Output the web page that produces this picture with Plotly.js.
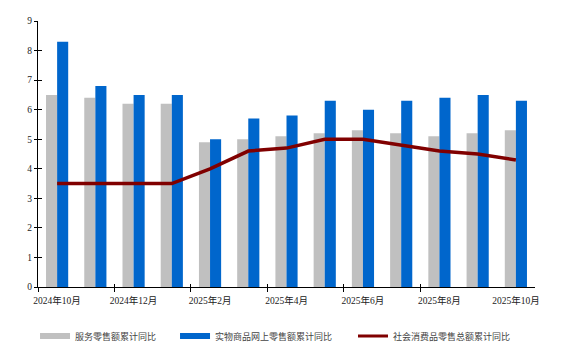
<!DOCTYPE html>
<html>
<head>
<meta charset="utf-8">
<script src="https://cdn.plot.ly/plotly-3.0.1.min.js"></script>
<style>html,body{margin:0;padding:0;background:#fff;}#chart{width:568px;height:363px;}</style>
</head>
<body>
<div id="chart"></div>
<script>
var categories = ["2024年10月","2024年11月","2024年12月","2025年1月","2025年2月","2025年3月","2025年4月","2025年5月","2025年6月","2025年7月","2025年8月","2025年9月","2025年10月"];
var serviceRetail = [6.5, 6.4, 6.2, 6.2, 4.9, 5.0, 5.1, 5.2, 5.3, 5.2, 5.1, 5.2, 5.3];
var onlineGoods = [8.3, 6.8, 6.5, 6.5, 5.0, 5.7, 5.8, 6.3, 6.0, 6.3, 6.4, 6.5, 6.3];
var totalRetail = [3.5, 3.5, 3.5, 3.5, 4.0, 4.6, 4.7, 5.0, 5.0, 4.8, 4.6, 4.5, 4.3];
var seriesNames = ["服务零售额累计同比", "实物商品网上零售额累计同比", "社会消费品零售总额累计同比"];
var labelIdx = [0, 2, 4, 6, 8, 10, 12];
var tickLabels = labelIdx.map(function(i){ return categories[i]; });
// category boundaries that carry a tick mark (between every second month)
var boundaryTicks = labelIdx.slice(0, -1).map(function(i){ return i - 0.5; });

var colGrey = "#c0c0c0", colBlue = "#0066cc", colRed = "#800000";

var traces = [
  {type: "bar", x: categories, y: serviceRetail, name: seriesNames[0], marker: {color: colGrey}, showlegend: false},
  {type: "bar", x: categories, y: onlineGoods, name: seriesNames[1], marker: {color: colBlue}, showlegend: false},
  {type: "scatter", mode: "lines", x: categories, y: totalRetail, name: seriesNames[2], line: {color: colRed, width: 3.5}, showlegend: false},
  {type: "scatter", mode: "lines", x: [null], y: [null], name: seriesNames[0], line: {color: colGrey, width: 6}, legend: "legend"},
  {type: "scatter", mode: "lines", x: [null], y: [null], name: seriesNames[1], line: {color: colBlue, width: 6}, legend: "legend2"},
  {type: "scatter", mode: "lines", x: [null], y: [null], name: seriesNames[2], line: {color: colRed, width: 3}, legend: "legend3"},
  {type: "scatter", mode: "lines", x: [null], y: [null], xaxis: "x2", yaxis: "y", showlegend: false, hoverinfo: "skip"},
  {type: "scatter", mode: "lines", x: [null], y: [null], xaxis: "x3", yaxis: "y", showlegend: false, hoverinfo: "skip"},
  {type: "scatter", mode: "lines", x: [null], y: [null], xaxis: "x", yaxis: "y2", showlegend: false, hoverinfo: "skip"}
];

var tickFont = {family: "'Liberation Serif', 'Noto Sans CJK SC', serif", size: 9.5, color: "#222"};
var legFont = {family: "'Noto Sans CJK SC', sans-serif", size: 9, color: "#444"};
function leg(x) {
  return {orientation: "h", x: x, xanchor: "left", y: -0.13, yanchor: "top", font: legFont,
          bgcolor: "rgba(0,0,0,0)", borderwidth: 0, itemclick: false};
}

var layout = {
  width: 568, height: 363,
  margin: {l: 38, r: 33, t: 21, b: 73},
  paper_bgcolor: "#fff", plot_bgcolor: "#fff",
  barmode: "group", bargap: 0.42, bargroupgap: 0,
  showlegend: true,
  legend: leg(-0.006),
  legend2: leg(0.2757),
  legend3: leg(0.6338),
  xaxis: {type: "category", tickmode: "array", tickvals: tickLabels, ticktext: tickLabels,
          tickson: "boundaries", ticks: "outside", ticklen: 4, tickcolor: "rgba(0,0,0,0)",
          ticklabelstandoff: 5,
          showline: true, linecolor: "#000", linewidth: 1, showgrid: false, zeroline: false,
          tickfont: tickFont, tickangle: 0, range: [-0.5, 12.5]},
  xaxis2: {overlaying: "x", anchor: "y", side: "bottom", range: [-0.5, 12.5],
           tickmode: "array", tickvals: boundaryTicks, ticks: "outside", ticklen: 4,
           tickcolor: "#000", tickwidth: 1, showticklabels: false, showline: false,
           showgrid: false, zeroline: false},
  xaxis3: {overlaying: "x", anchor: "y", side: "bottom", range: [-0.5, 12.5],
           tickmode: "array", tickvals: boundaryTicks, ticks: "inside", ticklen: 3,
           tickcolor: "#000", tickwidth: 1, showticklabels: false, showline: false,
           showgrid: false, zeroline: false},
  yaxis: {range: [0, 9], dtick: 1, ticks: "outside", ticklen: 3, tickcolor: "#000",
          showline: true, linecolor: "#000", linewidth: 1, showgrid: false, zeroline: false,
          tickfont: tickFont},
  yaxis2: {overlaying: "y", anchor: "x", side: "left", range: [0, 9], dtick: 1,
           ticks: "inside", ticklen: 4, tickcolor: "#000", showticklabels: false,
           showline: false, showgrid: false, zeroline: false}
};

Plotly.newPlot("chart", traces, layout, {staticPlot: true, displayModeBar: false});
</script>
</body>
</html>
